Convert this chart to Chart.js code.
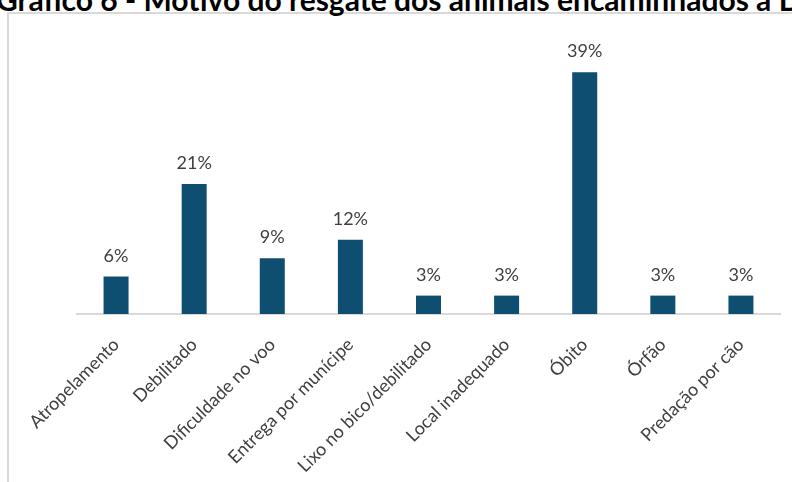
<!DOCTYPE html>
<html>
<head>
<meta charset="utf-8">
<script src="https://cdn.jsdelivr.net/npm/chart.js@4.4.0/dist/chart.umd.min.js"></script>
<style>
  html, body { margin: 0; padding: 0; background: #fff; overflow: hidden; }
  #wrap { position: relative; width: 792px; height: 482px; overflow: hidden; }
  #frame { position: absolute; left: 7px; top: 12px; width: 900px; height: 600px;
           border: 2px solid #d9d9d9; box-sizing: border-box; }
  #title { position: absolute; left: -4px; top: -19px; font: bold 30px Lato; line-height: 36px;
           color: #000; white-space: nowrap; }
  canvas { position: absolute; left: 0; top: 0; }
</style>
</head>
<body>
<div id="wrap">
  <div id="frame"></div>
  <div id="title">Gráfico 6 - Motivo do resgate dos animais encaminhados à D</div>
  <canvas id="chart" width="792" height="482"></canvas>
</div>
<script>
var categories = ['Atropelamento', 'Debilitado', 'Dificuldade no voo', 'Entrega por munícipe',
                  'Lixo no bico/debilitado', 'Local inadequado', 'Óbito', 'Órfão', 'Predação por cão'];
var percentages = [6.1, 21.2, 9.1, 12.1, 3.0, 3.0, 39.4, 3.0, 3.0];
var barColor = '#0d4e71';

// draws the "39%" style labels above each bar
var valueLabels = {
    id: 'valueLabels',
    afterDatasetsDraw: function (chart) {
        var ctx = chart.ctx;
        var meta = chart.getDatasetMeta(0);
        ctx.save();
        ctx.font = '18px Lato';
        ctx.fillStyle = '#404040';
        ctx.textAlign = 'center';
        ctx.textBaseline = 'alphabetic';
        meta.data.forEach(function (bar, i) {
            ctx.fillText(Math.round(percentages[i]) + '%', bar.x, bar.y - 15);
        });
        ctx.restore();
    }
};

var ctx = document.getElementById('chart').getContext('2d');
var chart = new Chart(ctx, {
    type: 'bar',
    data: {
        labels: categories,
        datasets: [{
            data: percentages,
            backgroundColor: barColor,
            barPercentage: 0.32,
            categoryPercentage: 1.0
        }]
    },
    options: {
        responsive: false,
        animation: false,
        devicePixelRatio: 1,
        layout: { padding: { left: 77, right: 12, top: 38, bottom: 0 } },
        plugins: {
            legend: { display: false },
            tooltip: { enabled: false },
            title: { display: false }
        },
        scales: {
            x: {
                grid: { display: false, drawTicks: false },
                border: { color: '#d9d9d9', width: 2 },
                ticks: {
                    color: '#404040',
                    font: { family: 'Lato', size: 18 },
                    minRotation: 45,
                    maxRotation: 45,
                    autoSkip: false,
                    padding: 20
                },
                afterFit: function (scale) { scale.height = 168; }
            },
            y: { display: false, min: 0, max: 45 }
        }
    },
    plugins: [valueLabels]
});
</script>
</body>
</html>
